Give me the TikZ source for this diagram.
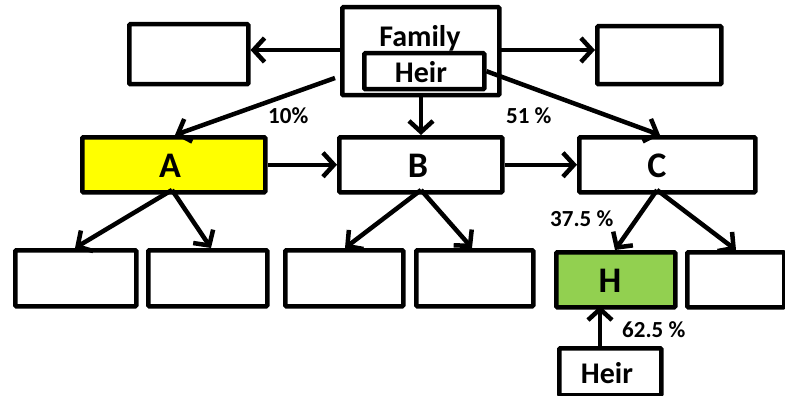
\documentclass[tikz,border=0pt]{standalone}
\usepackage{fontspec}
\setmainfont{Carlito}
\usetikzlibrary{arrows.meta}
\definecolor{boxyellow}{HTML}{FFFF00}
\definecolor{boxgreen}{HTML}{92D050}
\tikzset{
  box/.style={draw=black, line width=4.5pt, fill=white, inner sep=0pt, anchor=north west, rounded corners=1pt},
  conn/.style={line width=4.5pt, -{Straight Barb[length=11pt,width=24pt]}},
  pct/.style={font=\fontsize{23}{25}\selectfont\bfseries, inner sep=0pt, anchor=base west},
  big/.style={font=\fontsize{36}{38}\selectfont\bfseries, inner sep=0pt, anchor=base},
  mid/.style={font=\fontsize{30}{32}\selectfont\bfseries, inner sep=0pt, anchor=base}
}
\newcommand{\bx}[6]{\node[box,#6, minimum width=#4pt, minimum height=#5pt] (#1) at (#2pt,-#3pt) {};}
\begin{document}
\begin{tikzpicture}[x=1pt,y=-1pt]
\useasboundingbox (0,0) rectangle (785,396);
% top row
\bx{fam}{340}{5}{157}{88}{}
\node[mid] (famtxt) at (420,47) {Family};
\bx{heir}{362}{51}{120}{36}{}
\node[mid] (heirtxt) at (421,82) {Heir};
\bx{tl}{127}{22}{119}{60}{}
\bx{tr}{595}{24}{124}{58}{}
% middle row
\bx{A}{80}{135}{183}{55}{fill=boxyellow}
\node[big] (Atxt) at (170,177) {A};
\bx{B}{337}{135}{163}{55}{}
\node[big] (Btxt) at (418,177) {B};
\bx{C}{577}{135}{176}{55}{}
\node[big] (Ctxt) at (657,177) {C};
% bottom row
\bx{b1}{13}{248}{121}{56}{}
\bx{b2}{146}{248}{119}{56}{}
\bx{b3}{283}{248}{118}{56}{}
\bx{b4}{414}{248}{117}{56}{}
\bx{H}{554}{250}{119}{55}{fill=boxgreen}
\node[big] (Htxt) at (610,292) {H};
\bx{b6}{685}{250}{97}{55}{}
\bx{hb}{557}{346}{102}{47}{}
\node[mid] (hbtxt) at (607,383) {Heir};
% connectors
\coordinate (famL) at (340,50);
\coordinate (famR) at (497,50);
\draw[conn] (famL) -- (tl.east |- famL);
\draw[conn] (famR) -- (tr.west |- famR);
\draw[conn] (335,78) -- (175,135);
\draw[conn] (fam.south -| 421,0) -- (421,135);
\draw[conn] (heir.east) -- (660,135);
\draw[conn] (A.east) -- (B.west);
\draw[conn] (B.east) -- (C.west);
\draw[conn] (172,190) -- (75,248);
\draw[conn] (172,190) -- (211,248);
\draw[conn] (421,190) -- (345,248);
\draw[conn] (421,190) -- (472,248);
\draw[conn] (657,190) -- (615,250);
\draw[conn] (657,190) -- (736,250);
\draw[conn] (hb.north -| 600,0) -- (600,306);
% labels
\node[pct] (l10) at (268,124) {10\%};
\node[pct] (l51) at (506,124) {51 \%};
\node[pct] (l37) at (550,226) {37.5 \%};
\node[pct] (l62) at (622,337) {62.5 \%};
\end{tikzpicture}
\end{document}
